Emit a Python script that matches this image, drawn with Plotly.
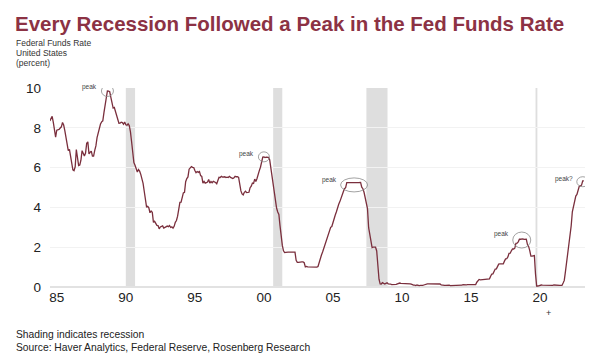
import plotly.graph_objects as go

# Effective Federal Funds Rate, monthly, percent (Jan 1985 - Sep 2023)
start_year = 1985
rates = [
    # 1985
    8.35, 8.50, 8.58, 8.27, 7.97, 7.53, 7.88, 7.90, 7.92, 7.99, 8.05, 8.27,
    # 1986
    8.14, 7.86, 7.48, 6.99, 6.85, 6.92, 6.56, 6.17, 5.89, 5.85, 6.04, 6.91,
    # 1987
    6.43, 6.10, 6.13, 6.37, 6.85, 6.73, 6.58, 6.73, 7.22, 7.29, 6.69, 6.77,
    # 1988
    6.83, 6.58, 6.58, 6.87, 7.09, 7.51, 7.75, 8.01, 8.19, 8.30, 8.35, 8.76,
    # 1989
    9.12, 9.36, 9.85, 9.84, 9.81, 9.53, 9.24, 8.99, 9.02, 8.84, 8.55, 8.45,
    # 1990
    8.23, 8.24, 8.28, 8.26, 8.18, 8.29, 8.15, 8.13, 8.20, 8.11, 7.81, 7.31,
    # 1991
    6.91, 6.25, 6.12, 5.91, 5.78, 5.90, 5.82, 5.66, 5.45, 5.21, 4.81, 4.43,
    # 1992
    4.03, 4.06, 3.98, 3.73, 3.82, 3.76, 3.25, 3.30, 3.22, 3.10, 3.09, 2.92,
    # 1993
    3.02, 3.03, 3.07, 2.96, 3.00, 3.04, 3.06, 3.03, 3.09, 2.99, 3.02, 2.96,
    # 1994
    3.05, 3.25, 3.34, 3.56, 4.01, 4.25, 4.26, 4.47, 4.73, 4.76, 5.29, 5.45,
    # 1995
    5.53, 5.92, 5.98, 6.05, 6.01, 6.00, 5.85, 5.74, 5.80, 5.76, 5.80, 5.60,
    # 1996
    5.56, 5.22, 5.31, 5.22, 5.24, 5.27, 5.40, 5.22, 5.30, 5.24, 5.31, 5.29,
    # 1997
    5.25, 5.19, 5.39, 5.51, 5.50, 5.56, 5.52, 5.54, 5.54, 5.50, 5.52, 5.50,
    # 1998
    5.56, 5.51, 5.49, 5.45, 5.49, 5.56, 5.54, 5.55, 5.51, 5.07, 4.83, 4.68,
    # 1999
    4.63, 4.76, 4.81, 4.74, 4.74, 4.76, 4.99, 5.07, 5.22, 5.20, 5.42, 5.30,
    # 2000
    5.45, 5.73, 5.85, 6.02, 6.27, 6.53, 6.54, 6.50, 6.52, 6.51, 6.51, 6.40,
    # 2001
    5.98, 5.49, 5.31, 4.80, 4.21, 3.97, 3.77, 3.65, 3.07, 2.49, 2.09, 1.82,
    # 2002
    1.73, 1.74, 1.73, 1.75, 1.75, 1.75, 1.73, 1.74, 1.75, 1.75, 1.34, 1.24,
    # 2003
    1.24, 1.26, 1.25, 1.26, 1.26, 1.22, 1.01, 1.03, 1.01, 1.01, 1.00, 0.98,
    # 2004
    1.00, 1.01, 1.00, 1.00, 1.00, 1.03, 1.26, 1.43, 1.61, 1.76, 1.93, 2.16,
    # 2005
    2.28, 2.50, 2.63, 2.79, 3.00, 3.04, 3.26, 3.50, 3.62, 3.78, 4.00, 4.16,
    # 2006
    4.29, 4.49, 4.59, 4.79, 4.94, 4.99, 5.24, 5.25, 5.25, 5.25, 5.25, 5.24,
    # 2007
    5.25, 5.26, 5.26, 5.25, 5.25, 5.25, 5.26, 5.02, 4.94, 4.76, 4.49, 4.24,
    # 2008
    3.94, 2.98, 2.61, 2.28, 1.98, 2.00, 2.01, 2.00, 1.81, 0.97, 0.39, 0.16,
    # 2009
    0.15, 0.22, 0.18, 0.15, 0.18, 0.21, 0.16, 0.16, 0.15, 0.12, 0.12, 0.12,
    # 2010
    0.11, 0.13, 0.16, 0.20, 0.20, 0.18, 0.18, 0.19, 0.19, 0.19, 0.19, 0.18,
    # 2011
    0.17, 0.16, 0.14, 0.10, 0.09, 0.09, 0.07, 0.10, 0.08, 0.07, 0.08, 0.07,
    # 2012
    0.08, 0.10, 0.13, 0.14, 0.16, 0.16, 0.16, 0.13, 0.14, 0.16, 0.16, 0.16,
    # 2013
    0.14, 0.15, 0.14, 0.15, 0.11, 0.09, 0.09, 0.08, 0.08, 0.09, 0.08, 0.09,
    # 2014
    0.07, 0.07, 0.08, 0.09, 0.09, 0.10, 0.09, 0.09, 0.09, 0.09, 0.09, 0.12,
    # 2015
    0.11, 0.11, 0.11, 0.12, 0.12, 0.13, 0.13, 0.14, 0.14, 0.12, 0.12, 0.24,
    # 2016
    0.34, 0.38, 0.36, 0.37, 0.37, 0.38, 0.39, 0.40, 0.40, 0.40, 0.41, 0.54,
    # 2017
    0.65, 0.66, 0.79, 0.90, 0.91, 1.04, 1.15, 1.16, 1.15, 1.15, 1.16, 1.30,
    # 2018
    1.41, 1.42, 1.51, 1.69, 1.70, 1.82, 1.91, 1.91, 1.95, 2.19, 2.20, 2.27,
    # 2019
    2.40, 2.40, 2.41, 2.42, 2.39, 2.38, 2.40, 2.13, 2.04, 1.83, 1.55, 1.55,
    # 2020
    1.55, 1.58, 0.65, 0.05, 0.05, 0.08, 0.09, 0.10, 0.09, 0.09, 0.09, 0.09,
    # 2021
    0.09, 0.08, 0.07, 0.07, 0.06, 0.08, 0.10, 0.09, 0.08, 0.08, 0.08, 0.08,
    # 2022
    0.08, 0.08, 0.20, 0.33, 0.77, 1.21, 1.68, 2.33, 2.56, 3.08, 3.78, 4.10,
    # 2023
    4.33, 4.57, 4.65, 4.83, 5.06, 5.08, 5.12, 5.33, 5.33,
]
dates = [start_year + i / 12 for i in range(len(rates))]

# Recessions (decimal years)
rec_start = [1990.50, 2001.17, 2007.92, 2020.17]
rec_end = [1991.17, 2001.83, 2009.45, 2020.30]

# Peak call-outs
peak_x = [1989.17, 2000.50, 2007.03, 2019.17, 2023.59]
peak_y = [9.85, 6.54, 5.13, 2.36, 5.29]
peak_text = ["peak", "peak", "peak", "peak", "peak?"]
peak_w = [12, 11, 27, 18, 12]
peak_h = [11, 10, 14, 16, 10]

tick_years = [1985, 1990, 1995, 2000, 2005, 2010, 2015, 2020]
tick_labels = ["85", "90", "95", "00", "05", "10", "15", "20"]
y_ticks = [0, 2, 4, 6, 8, 10]

LINE = "#7a2f3d"
TITLE = "#8c3244"

# page offset (browser body margin)
OFF = 8
W, H = 596 - OFF, 359 - OFF
L, R, T, B = 50 - OFF, 11, 88 - OFF, 72
pw, ph = W - L - R, H - T - B


def px(x):
    return (x - OFF - L) / pw


def py(y):
    return (H - B - (y - OFF)) / ph


fig = go.Figure()

for s, e in zip(rec_start, rec_end):
    fig.add_shape(type="rect", xref="x", yref="y", x0=s, x1=e, y0=0, y1=10,
                  fillcolor="#dedede", line=dict(width=0), layer="below")

fig.add_trace(go.Scatter(x=dates, y=rates, mode="lines",
                         line=dict(color=LINE, width=1.3), hoverinfo="skip",
                         showlegend=False))

for xx, yy, t, w, h in zip(peak_x, peak_y, peak_text, peak_w, peak_h):
    fig.add_shape(type="circle", xref="x", yref="y",
                  xsizemode="pixel", ysizemode="pixel",
                  xanchor=xx, yanchor=yy,
                  x0=-w / 2, x1=w / 2, y0=-h / 2, y1=h / 2,
                  line=dict(color="#8a8a8a", width=0.8))
    fig.add_annotation(x=xx, y=yy, xref="x", yref="y", text=t, showarrow=False,
                       xanchor="right", yanchor="middle",
                       xshift=-(w / 2 + 2), yshift=h / 2 - 2,
                       font=dict(size=6.5, color="#444", family="Liberation Sans"))

# Titles and notes (positions in page pixels)
fig.add_annotation(x=px(13), y=py(24), xref="paper", yref="paper",
                   text="<b>Every Recession Followed a Peak in the Fed Funds Rate</b>",
                   showarrow=False, xanchor="left", yanchor="middle",
                   font=dict(size=20.5, color=TITLE, family="Liberation Sans, Arial"))
for i, t in enumerate(["Federal Funds Rate", "United States", "(percent)"]):
    fig.add_annotation(x=px(14), y=py(42.5 + i * 10.5), xref="paper", yref="paper",
                       text=t, showarrow=False, xanchor="left", yanchor="middle",
                       font=dict(size=8.5, color="#333", family="Liberation Sans"))
fig.add_annotation(x=px(14), y=py(334), xref="paper", yref="paper",
                   text="Shading indicates recession", showarrow=False,
                   xanchor="left", yanchor="middle",
                   font=dict(size=10.3, color="#222", family="Liberation Sans"))
fig.add_annotation(x=px(14), y=py(347.5), xref="paper", yref="paper",
                   text="Source: Haver Analytics, Federal Reserve, Rosenberg Research",
                   showarrow=False, xanchor="left", yanchor="middle",
                   font=dict(size=10.3, color="#222", family="Liberation Sans"))
fig.add_annotation(x=px(548), y=py(313), xref="paper", yref="paper", text="+",
                   showarrow=False, xanchor="center", yanchor="middle",
                   font=dict(size=9, color="#333", family="Liberation Sans"))

fig.update_layout(
    width=W, height=H,
    margin=dict(l=L, r=R, t=T, b=B),
    paper_bgcolor="white", plot_bgcolor="white",
    font=dict(family="Liberation Sans", color="#222"),
    xaxis=dict(range=[1985.01, 2023.75], tickvals=[y + 0.5 for y in tick_years],
               ticktext=tick_labels, showgrid=False, zeroline=False,
               showline=False, ticks="", tickfont=dict(size=13.5, color="#222"),
               fixedrange=True),
    yaxis=dict(range=[0, 10], tickvals=y_ticks, showgrid=True, gridcolor="#f2f2f2",
               gridwidth=1, zeroline=True, zerolinecolor="#e2e2e2", zerolinewidth=1.5,
               ticks="", ticklabelstandoff=8, tickfont=dict(size=13.5, color="#222"),
               fixedrange=True),
)

fig.write_html("out.html")
